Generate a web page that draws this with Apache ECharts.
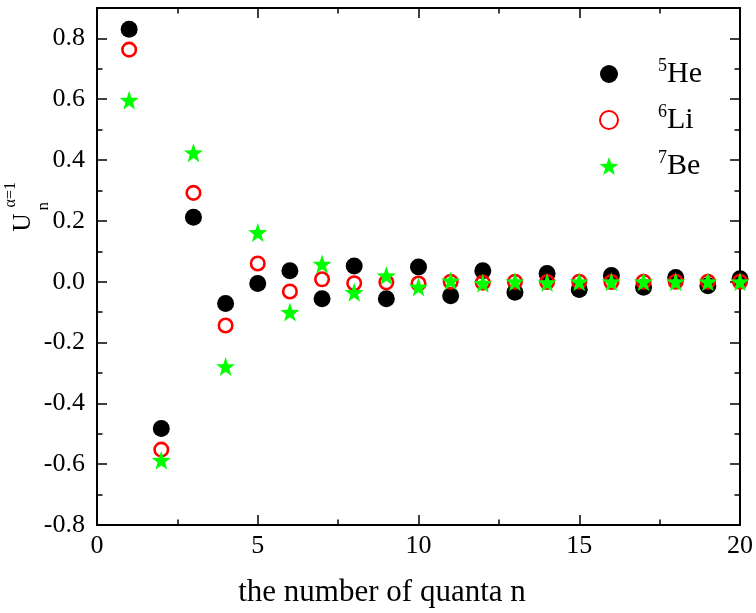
<!DOCTYPE html>
<html>
<head>
<meta charset="utf-8">
<script src="https://cdn.jsdelivr.net/npm/echarts@6/dist/echarts.min.js"></script>
<style>html,body{margin:0;padding:0;background:#fff;}#c{width:756px;height:613px;}</style>
</head>
<body>
<div id="c"></div>
<script>
var nValues = [1,2,3,4,5,6,7,8,9,10,11,12,13,14,15,16,17,18,19,20];
var heValues = [0.83,-0.483,0.212,-0.072,-0.006,0.036,-0.056,0.052,-0.056,0.048,-0.046,0.036,-0.035,0.027,-0.026,0.020,-0.018,0.014,-0.013,0.010];
var liValues = [0.763,-0.552,0.292,-0.144,0.060,-0.032,0.008,-0.005,-0.002,-0.006,0.0,-0.003,0.0,-0.001,0.0,-0.001,0.0,0.0,0.0,0.0];
var beValues = [0.597,-0.587,0.424,-0.279,0.162,-0.100,0.058,-0.035,0.020,-0.017,0.003,-0.005,0.0,-0.003,0.0,0.0,0.0,0.0,0.0,0.0];
var seriesNames = ['He','Li','Be'];
var massNumbers = ['5','6','7'];
var xTicks = {min:0, max:20, interval:5};
var yTicks = {min:-0.8, max:0.9, interval:0.2};

function pairs(vals){ return vals.map(function(v,i){ return [nValues[i], v]; }); }
var starPath = 'path://M0,-10 L2.35,-3.24 L9.51,-3.09 L3.8,1.24 L5.88,8.09 L0,4 L-5.88,8.09 L-3.8,1.24 L-9.51,-3.09 L-2.35,-3.24 Z';
var FONT = '"Liberation Serif","Times New Roman",serif';

var chart = echarts.init(document.getElementById('c'), null, {renderer:'canvas'});
var axisCommon = {
  axisLine:{show:true, onZero:false, lineStyle:{color:'#000', width:2}},
  axisTick:{show:true, inside:true, length:10, lineStyle:{color:'#000', width:1.5}},
  minorTick:{show:true, splitNumber:2, length:5.5, lineStyle:{color:'#000', width:1.5}},
  splitLine:{show:false}
};
function ax(extra){ return Object.assign({}, JSON.parse(JSON.stringify(axisCommon)), extra); }

chart.setOption({
  animation:false,
  backgroundColor:'#fff',
  grid:{left:97, right:16, top:8, bottom:88, containLabel:false},
  xAxis:[
    ax({type:'value', position:'bottom', min:xTicks.min, max:xTicks.max, interval:xTicks.interval,
      axisLabel:{color:'#000', fontFamily:FONT, fontSize:26, margin:8},
      name:'the number of quanta n', nameLocation:'middle', nameGap:52,
      nameTextStyle:{color:'#000', fontFamily:FONT, fontSize:31, padding:[0,73,0,0]}}),
    ax({type:'value', position:'top', min:xTicks.min, max:xTicks.max, interval:xTicks.interval,
      axisLabel:{show:false}})
  ],
  yAxis:[
    ax({type:'value', position:'left', min:yTicks.min, max:yTicks.max, interval:yTicks.interval,
      axisLabel:{color:'#000', fontFamily:FONT, fontSize:26, margin:12,
        formatter:function(v){ if (v > 0.85) return ''; return v.toFixed(1); }}}),
    ax({type:'value', position:'right', min:yTicks.min, max:yTicks.max, interval:yTicks.interval,
      axisLabel:{show:false}})
  ],
  legend:{
    orient:'vertical', left:594, top:52, itemWidth:88, itemHeight:18, itemGap:14,
    data:seriesNames,
    formatter:function(name){ var i = seriesNames.indexOf(name); return '{sup|' + massNumbers[i] + '}{t|' + name + '}'; },
    textStyle:{color:'#000', fontFamily:FONT,
      rich:{
        sup:{fontSize:18, fontFamily:FONT, color:'#000', verticalAlign:'top', lineHeight:34},
        t:{fontSize:30, fontFamily:FONT, color:'#000', lineHeight:34}
      }}
  },
  series:[
    {name:'He', type:'scatter', data:pairs(heValues), symbol:'circle', symbolSize:17,
      itemStyle:{color:'#000', opacity:1}},
    {name:'Li', type:'scatter', data:pairs(liValues), symbol:'circle', symbolSize:13.5,
      itemStyle:{color:'rgba(255,255,255,0)', borderColor:'#ff0000', borderWidth:2.6, opacity:1}},
    {name:'Be', type:'scatter', data:pairs(beValues), symbol:starPath, symbolSize:19,
      itemStyle:{color:'#00ff00', opacity:1}}
  ],
  graphic:[{
    type:'group', x:23, y:222.5, rotation:Math.PI/2,
    children:[
      {type:'text', x:0, y:0, style:{text:'U', font:'25px ' + FONT, fill:'#000', align:'center', verticalAlign:'middle'}},
      {type:'text', x:15, y:-12, style:{text:'α=1', font:'16px ' + FONT, fill:'#000', align:'left', verticalAlign:'middle'}},
      {type:'text', x:12, y:21, style:{text:'n', font:'17px ' + FONT, fill:'#000', align:'left', verticalAlign:'middle'}}
    ]
  }]
});
</script>
</body>
</html>
